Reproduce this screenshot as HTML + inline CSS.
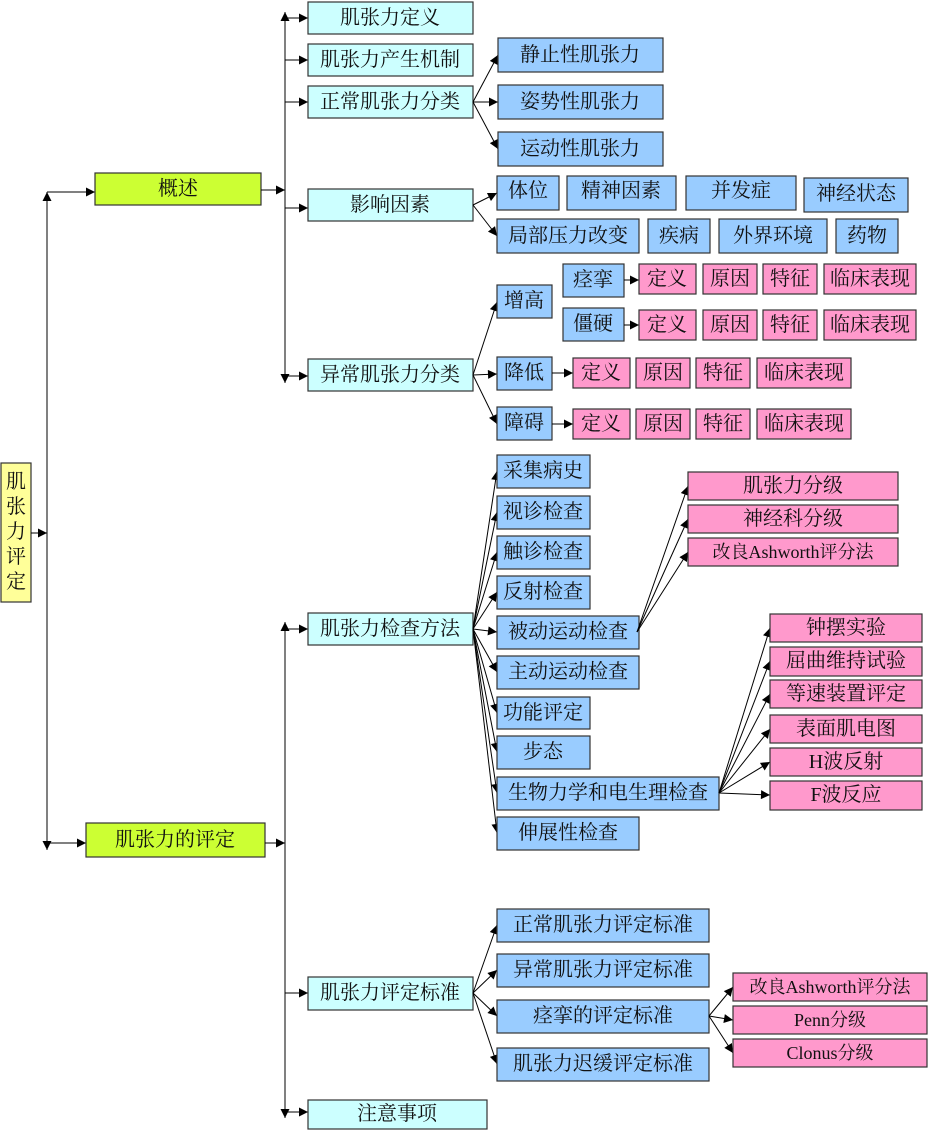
<!DOCTYPE html>
<html><head><meta charset="utf-8"><style>
html,body{margin:0;padding:0;background:#fff;width:928px;height:1130px;overflow:hidden}
svg text{font-family:"Liberation Serif","Noto Serif CJK SC",serif;font-size:20px;fill:#111;text-anchor:middle;dominant-baseline:central}
svg text.s{font-size:18px}
.c{fill:#ccffff}.b{fill:#99ccff}.p{fill:#ff99cc}.g{fill:#ccff33}.y{fill:#ffff99}
rect{stroke:#333;stroke-width:1.2}
line,polyline{stroke:#000;stroke-width:1;fill:none}
</style></head><body>
<svg width="928" height="1130" xmlns="http://www.w3.org/2000/svg">
<defs><marker id="a" viewBox="0 0 10 10" refX="10" refY="5" markerWidth="10" markerHeight="9" markerUnits="userSpaceOnUse" orient="auto"><path d="M0,0 L10,5 L0,10 z" fill="#000"/></marker></defs>

<rect class="y" x="1" y="463" width="30" height="139"/>
<text x="16" y="482">肌</text><text x="16" y="507">张</text><text x="16" y="532">力</text><text x="16" y="557">评</text><text x="16" y="582">定</text>
<line x1="31" y1="533" x2="47" y2="533" marker-end="url(#a)"/>
<line x1="47" y1="533" x2="47" y2="192" marker-end="url(#a)"/>
<line x1="47" y1="533" x2="47" y2="850" marker-end="url(#a)"/>
<line x1="47" y1="192" x2="95" y2="192" marker-end="url(#a)"/>
<line x1="47" y1="843" x2="86" y2="843" marker-end="url(#a)"/>

<rect class="g" x="95" y="173" width="166" height="32"/><text x="178" y="189">概述</text>
<rect class="g" x="86" y="823" width="179" height="34"/><text x="175" y="840">肌张力的评定</text>

<line x1="261" y1="190" x2="285" y2="190" marker-end="url(#a)"/>
<line x1="285" y1="190" x2="285" y2="12" marker-end="url(#a)"/>
<line x1="285" y1="190" x2="285" y2="383" marker-end="url(#a)"/>
<line x1="285" y1="18" x2="308" y2="18" marker-end="url(#a)"/>
<line x1="285" y1="60" x2="308" y2="60" marker-end="url(#a)"/>
<line x1="285" y1="102" x2="308" y2="102" marker-end="url(#a)"/>
<line x1="285" y1="208" x2="308" y2="208" marker-end="url(#a)"/>
<line x1="285" y1="376" x2="308" y2="376" marker-end="url(#a)"/>

<rect class="c" x="308" y="2" width="165" height="32"/><text x="390" y="18">肌张力定义</text>
<rect class="c" x="308" y="44" width="165" height="32"/><text x="390" y="60">肌张力产生机制</text>
<rect class="c" x="308" y="86" width="165" height="32"/><text x="390" y="102">正常肌张力分类</text>
<rect class="c" x="308" y="189" width="165" height="32"/><text x="390" y="205">影响因素</text>
<rect class="c" x="308" y="359" width="165" height="32"/><text x="390" y="375">异常肌张力分类</text>

<line x1="473" y1="102" x2="498" y2="55" marker-end="url(#a)"/>
<line x1="473" y1="102" x2="498" y2="102" marker-end="url(#a)"/>
<line x1="473" y1="102" x2="498" y2="149" marker-end="url(#a)"/>
<rect class="b" x="498" y="38" width="165" height="34"/><text x="580" y="55">静止性肌张力</text>
<rect class="b" x="498" y="85" width="165" height="34"/><text x="580" y="102">姿势性肌张力</text>
<rect class="b" x="498" y="132" width="165" height="34"/><text x="580" y="149">运动性肌张力</text>

<line x1="473" y1="205" x2="497" y2="193" marker-end="url(#a)"/>
<line x1="473" y1="205" x2="497" y2="236" marker-end="url(#a)"/>
<rect class="b" x="497" y="176" width="62" height="34"/><text x="528" y="191">体位</text>
<rect class="b" x="567" y="176" width="109" height="34"/><text x="621" y="191">精神因素</text>
<rect class="b" x="686" y="176" width="110" height="34"/><text x="741" y="191">并发症</text>
<rect class="b" x="804" y="178" width="104" height="34"/><text x="856" y="194">神经状态</text>
<rect class="b" x="497" y="219" width="142" height="34"/><text x="568" y="236">局部压力改变</text>
<rect class="b" x="648" y="219" width="62" height="34"/><text x="679" y="236">疾病</text>
<rect class="b" x="719" y="219" width="108" height="34"/><text x="773" y="236">外界环境</text>
<rect class="b" x="836" y="219" width="62" height="34"/><text x="867" y="236">药物</text>

<line x1="473" y1="375" x2="497" y2="302" marker-end="url(#a)"/>
<line x1="473" y1="375" x2="497" y2="374" marker-end="url(#a)"/>
<line x1="473" y1="375" x2="497" y2="424" marker-end="url(#a)"/>
<rect class="b" x="497" y="285" width="55" height="33"/><text x="524" y="301">增高</text>
<rect class="b" x="497" y="357" width="55" height="33"/><text x="524" y="373">降低</text>
<rect class="b" x="497" y="407" width="55" height="33"/><text x="524" y="423">障碍</text>
<rect class="b" x="563" y="264" width="61" height="33"/><text x="593" y="280">痉挛</text>
<rect class="b" x="563" y="308" width="61" height="33"/><text x="593" y="324">僵硬</text>
<line x1="624" y1="280" x2="639" y2="280" marker-end="url(#a)"/>
<line x1="624" y1="325" x2="639" y2="325" marker-end="url(#a)"/>
<line x1="552" y1="373" x2="573" y2="373" marker-end="url(#a)"/>
<line x1="552" y1="424" x2="573" y2="424" marker-end="url(#a)"/>

<rect class="p" x="639" y="264" width="57" height="30"/><text x="667" y="279">定义</text>
<rect class="p" x="703" y="264" width="54" height="30"/><text x="730" y="279">原因</text>
<rect class="p" x="763" y="264" width="54" height="30"/><text x="790" y="279">特征</text>
<rect class="p" x="824" y="264" width="92" height="30"/><text x="870" y="279">临床表现</text>
<rect class="p" x="639" y="310" width="57" height="30"/><text x="667" y="325">定义</text>
<rect class="p" x="703" y="310" width="54" height="30"/><text x="730" y="325">原因</text>
<rect class="p" x="763" y="310" width="54" height="30"/><text x="790" y="325">特征</text>
<rect class="p" x="824" y="310" width="92" height="30"/><text x="870" y="325">临床表现</text>
<rect class="p" x="573" y="358" width="57" height="30"/><text x="601" y="373">定义</text>
<rect class="p" x="636" y="358" width="54" height="30"/><text x="663" y="373">原因</text>
<rect class="p" x="696" y="358" width="54" height="30"/><text x="723" y="373">特征</text>
<rect class="p" x="757" y="358" width="94" height="30"/><text x="804" y="373">临床表现</text>
<rect class="p" x="573" y="409" width="57" height="30"/><text x="601" y="424">定义</text>
<rect class="p" x="636" y="409" width="54" height="30"/><text x="663" y="424">原因</text>
<rect class="p" x="696" y="409" width="54" height="30"/><text x="723" y="424">特征</text>
<rect class="p" x="757" y="409" width="94" height="30"/><text x="804" y="424">临床表现</text>

<line x1="265" y1="843" x2="285" y2="843" marker-end="url(#a)"/>
<line x1="285" y1="843" x2="285" y2="622" marker-end="url(#a)"/>
<line x1="285" y1="843" x2="285" y2="1118" marker-end="url(#a)"/>
<line x1="285" y1="629" x2="308" y2="629" marker-end="url(#a)"/>
<line x1="285" y1="993" x2="308" y2="993" marker-end="url(#a)"/>
<line x1="285" y1="1112" x2="308" y2="1112" marker-end="url(#a)"/>

<rect class="c" x="308" y="613" width="165" height="32"/><text x="390" y="629">肌张力检查方法</text>
<rect class="c" x="308" y="977" width="165" height="33"/><text x="390" y="993">肌张力评定标准</text>
<rect class="c" x="308" y="1100" width="179" height="29"/><text x="397" y="1114">注意事项</text>

<line x1="473" y1="629" x2="497" y2="471" marker-end="url(#a)"/>
<line x1="473" y1="629" x2="497" y2="512" marker-end="url(#a)"/>
<line x1="473" y1="629" x2="497" y2="552" marker-end="url(#a)"/>
<line x1="473" y1="629" x2="497" y2="592" marker-end="url(#a)"/>
<line x1="473" y1="629" x2="497" y2="632" marker-end="url(#a)"/>
<line x1="473" y1="629" x2="497" y2="672" marker-end="url(#a)"/>
<line x1="473" y1="629" x2="497" y2="713" marker-end="url(#a)"/>
<line x1="473" y1="629" x2="497" y2="752" marker-end="url(#a)"/>
<line x1="473" y1="629" x2="497" y2="793" marker-end="url(#a)"/>
<line x1="473" y1="629" x2="497" y2="833" marker-end="url(#a)"/>
<rect class="b" x="497" y="455" width="93" height="33"/><text x="543" y="471">采集病史</text>
<rect class="b" x="497" y="496" width="93" height="33"/><text x="543" y="512">视诊检查</text>
<rect class="b" x="497" y="536" width="93" height="33"/><text x="543" y="552">触诊检查</text>
<rect class="b" x="497" y="576" width="93" height="33"/><text x="543" y="592">反射检查</text>
<rect class="b" x="497" y="616" width="142" height="33"/><text x="568" y="632">被动运动检查</text>
<rect class="b" x="497" y="656" width="142" height="33"/><text x="568" y="672">主动运动检查</text>
<rect class="b" x="497" y="697" width="93" height="32"/><text x="543" y="713">功能评定</text>
<rect class="b" x="497" y="736" width="93" height="33"/><text x="543" y="752">步态</text>
<rect class="b" x="497" y="777" width="222" height="33"/><text x="608" y="793">生物力学和电生理检查</text>
<rect class="b" x="497" y="817" width="142" height="33"/><text x="568" y="833">伸展性检查</text>

<line x1="637" y1="632" x2="688" y2="486" marker-end="url(#a)"/>
<line x1="637" y1="632" x2="688" y2="519" marker-end="url(#a)"/>
<line x1="637" y1="632" x2="688" y2="552" marker-end="url(#a)"/>
<rect class="p" x="688" y="472" width="210" height="28"/><text x="793" y="486">肌张力分级</text>
<rect class="p" x="688" y="505" width="210" height="28"/><text x="793" y="519">神经科分级</text>
<rect class="p" x="688" y="538" width="210" height="28"/><text class="s" x="793" y="552">改良Ashworth评分法</text>

<line x1="719" y1="793" x2="770" y2="628" marker-end="url(#a)"/>
<line x1="719" y1="793" x2="770" y2="661" marker-end="url(#a)"/>
<line x1="719" y1="793" x2="770" y2="694" marker-end="url(#a)"/>
<line x1="719" y1="793" x2="770" y2="729" marker-end="url(#a)"/>
<line x1="719" y1="793" x2="770" y2="762" marker-end="url(#a)"/>
<line x1="719" y1="793" x2="770" y2="795" marker-end="url(#a)"/>
<rect class="p" x="770" y="614" width="152" height="28"/><text x="846" y="628">钟摆实验</text>
<rect class="p" x="770" y="647" width="152" height="29"/><text x="846" y="661">屈曲维持试验</text>
<rect class="p" x="770" y="680" width="152" height="28"/><text x="846" y="694">等速装置评定</text>
<rect class="p" x="770" y="715" width="152" height="28"/><text x="846" y="729">表面肌电图</text>
<rect class="p" x="770" y="748" width="152" height="28"/><text x="846" y="762">H波反射</text>
<rect class="p" x="770" y="781" width="152" height="29"/><text x="846" y="795">F波反应</text>

<line x1="473" y1="993" x2="497" y2="925" marker-end="url(#a)"/>
<line x1="473" y1="993" x2="497" y2="970" marker-end="url(#a)"/>
<line x1="473" y1="993" x2="497" y2="1016" marker-end="url(#a)"/>
<line x1="473" y1="993" x2="497" y2="1064" marker-end="url(#a)"/>
<rect class="b" x="497" y="909" width="212" height="33"/><text x="603" y="925">正常肌张力评定标准</text>
<rect class="b" x="497" y="954" width="212" height="33"/><text x="603" y="970">异常肌张力评定标准</text>
<rect class="b" x="497" y="1000" width="212" height="33"/><text x="603" y="1016">痉挛的评定标准</text>
<rect class="b" x="497" y="1048" width="212" height="33"/><text x="603" y="1064">肌张力迟缓评定标准</text>

<line x1="709" y1="1016" x2="733" y2="987" marker-end="url(#a)"/>
<line x1="709" y1="1016" x2="733" y2="1020" marker-end="url(#a)"/>
<line x1="709" y1="1016" x2="733" y2="1053" marker-end="url(#a)"/>
<rect class="p" x="733" y="973" width="194" height="28"/><text class="s" x="830" y="987">改良Ashworth评分法</text>
<rect class="p" x="733" y="1006" width="194" height="28"/><text class="s" x="830" y="1020">Penn分级</text>
<rect class="p" x="733" y="1039" width="194" height="28"/><text class="s" x="830" y="1053">Clonus分级</text>
</svg>
</body></html>
